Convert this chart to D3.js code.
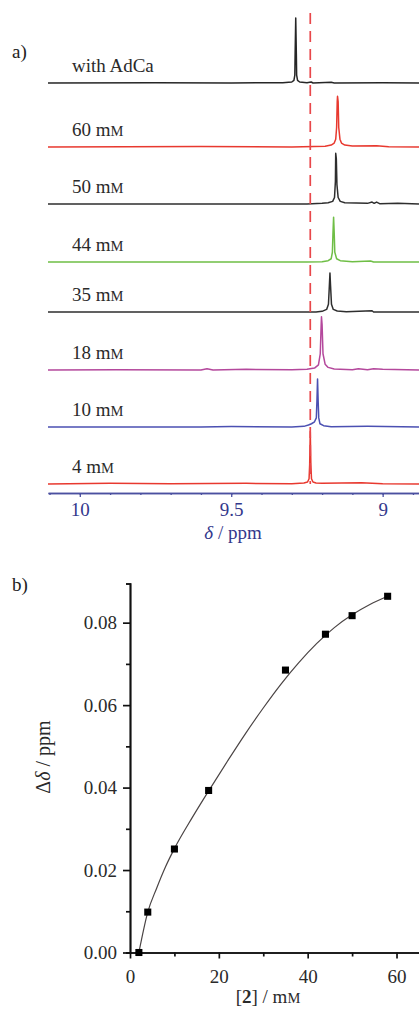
<!DOCTYPE html>
<html>
<head>
<meta charset="utf-8">
<script src="https://cdn.jsdelivr.net/npm/d3@7"></script>
<style>
  body { margin: 0; background: #fff; }
  text { font-family: "Liberation Serif", "Times New Roman", serif; }
</style>
</head>
<body>
<div id="chart"></div>
<script>
// panel a: stacked 1H NMR spectra, [ppm, intensity]
var spectrumLabels = ["with AdCa", "60 mM", "50 mM", "44 mM", "35 mM", "18 mM", "10 mM", "4 mM"];

var specAdCa = [[10.105,0],[9.75,0.5],[9.5,0],[9.33,0.5],[9.30,1.5],[9.293,4],[9.290,12],[9.289,45],[9.287,100],[9.285,45],[9.284,12],[9.281,4],[9.274,1.5],[9.25,0.5],[9.236,1.5],[9.23,0],[9.17,1.2],[9.16,0],[9.0,0.5],[8.88,0]];
var spec60 = [[10.105,0],[9.6,0.6],[9.3,0],[9.19,1],[9.17,3],[9.16,6],[9.155,12],[9.152,30],[9.150,70],[9.149,78],[9.147,70],[9.145,30],[9.141,12],[9.136,6],[9.125,3],[9.10,1.5],[9.02,2],[8.98,0.5],[8.88,0]];
var spec50 = [[10.105,0],[9.25,0],[9.20,1],[9.18,2],[9.165,4],[9.159,10],[9.156,35],[9.155,78],[9.153,70],[9.151,30],[9.147,10],[9.14,4],[9.125,2],[9.05,1],[9.035,3],[9.028,1],[9.02,3],[9.01,0.5],[8.95,1],[8.88,0]];
var spec44 = [[10.105,0],[9.25,0],[9.20,0.5],[9.18,2],[9.17,5],[9.166,15],[9.164,45],[9.162,69],[9.160,45],[9.158,15],[9.152,5],[9.14,2],[9.10,0.5],[9.04,1.5],[9.03,0],[8.88,0]];
var spec35 = [[10.105,0],[9.22,0],[9.20,1],[9.185,4],[9.179,12],[9.176,40],[9.174,60],[9.172,40],[9.169,12],[9.163,4],[9.15,1.5],[9.12,0.5],[9.035,2],[9.03,0],[8.88,0]];
var spec18 = [[10.105,0],[9.88,0.5],[9.6,0],[9.58,2],[9.56,0],[9.45,1],[9.3,0.5],[9.25,1],[9.225,3],[9.212,8],[9.206,25],[9.203,70],[9.202,82],[9.200,70],[9.197,25],[9.19,9],[9.18,4],[9.16,1.5],[9.1,0.5],[9.08,2],[9.05,0.5],[9.03,2],[9.0,1],[8.88,0]];
var spec10 = [[10.105,0],[9.6,0],[9.5,0.6],[9.3,0],[9.26,1],[9.245,3],[9.235,5],[9.225,8],[9.219,14],[9.217,40],[9.215,74],[9.213,40],[9.211,14],[9.207,5],[9.195,2],[9.17,0.5],[9.05,1],[8.88,0]];
var spec4 = [[10.105,0],[9.9,1],[9.7,0.5],[9.45,1],[9.3,0.5],[9.26,1.5],[9.248,3],[9.243,8],[9.241,30],[9.239,81],[9.237,30],[9.235,8],[9.23,3],[9.22,1.5],[9.2,1],[9.07,2],[9.0,0.5],[8.88,0]];
var spectra = [specAdCa, spec60, spec50, spec44, spec35, spec18, spec10, spec4];

var refShift = 9.239;              // dashed reference line
var ppmMajor = [10, 9.5, 9];
var ppmMinor = [10.1, 10, 9.9, 9.8, 9.7, 9.6, 9.5, 9.4, 9.3, 9.2, 9.1, 9, 8.9];

// panel b: titration
var conc = [2, 4, 10, 17.7, 35, 44, 50, 58];
var shift = [0, 0.0098, 0.0251, 0.0393, 0.0685, 0.0772, 0.0817, 0.0864];
var fitConc = [2, 4, 6, 8, 10, 14, 18, 22, 26, 30, 34, 38, 42, 46, 50, 54, 58];
var fitShift = [0, 0.0098, 0.0156, 0.0208, 0.0252, 0.0327, 0.0397, 0.0465, 0.0531, 0.0593, 0.0651, 0.0703, 0.0749, 0.0788, 0.0819, 0.0844, 0.0864];
var concMajor = [0, 20, 40, 60];
var concMinor = [10, 30, 50];
var shiftMajor = [0, 0.02, 0.04, 0.06, 0.08];
var shiftMinor = [0.01, 0.03, 0.05, 0.07];

// layout / style
var width = 419, height = 1009;
var rowY = [83, 147, 204, 262, 312, 370, 427, 484];
var colors = ["#262626", "#e8392f", "#2e2e2e", "#6fbe46", "#2e2e2e", "#b4489c", "#4b50b2", "#e8392f"];
var navy = "#33388c";

var svg = d3.select("#chart").append("svg")
    .attr("width", width)
    .attr("height", height);

// ---------- panel a ----------
var xA = d3.scaleLinear().domain([10.105, 8.88]).range([48, 419]);
var yA = d3.scaleLinear().domain([0, 100]).range([0, -65]);

var line = d3.line()
    .x(function(d) { return xA(d[0]); })
    .y(function(d) { return yA(d[1]); });

svg.append("text").attr("x", 12).attr("y", 58).style("font-size", "19px").attr("fill", "#222").text("a)");

var rows = svg.selectAll("g.spec")
    .data(spectra)
    .enter()
    .append("g")
        .classed("spec", true)
        .attr("transform", function(d, i) { return "translate(0," + rowY[i] + ")"; });

rows.append("path")
    .attr("d", line)
    .attr("fill", "none")
    .attr("stroke", function(d, i) { return colors[i]; })
    .attr("stroke-width", 1.5)
    .attr("stroke-linejoin", "round");

rows.each(function(d, i) {
    var lab = spectrumLabels[i];
    var t = d3.select(this).append("text")
        .attr("x", 72)
        .attr("y", -11)
        .attr("fill", "#2a2a2a")
        .style("font-size", "19px");
    if (/mM$/.test(lab)) {
        t.text(lab.slice(0, -1));
        t.append("tspan").style("font-size", "14.5px").text("M");
    } else {
        t.text(lab);
    }
});

// reference line
svg.append("line")
    .attr("x1", xA(refShift)).attr("x2", xA(refShift))
    .attr("y1", 13).attr("y2", rowY[7])
    .attr("stroke", "#e8474a")
    .attr("stroke-width", 1.7)
    .attr("stroke-dasharray", "11,7");

// ppm axis
var axA = svg.append("g").attr("transform", "translate(0,493)");
axA.append("g")
    .call(d3.axisBottom(xA).tickValues(ppmMinor).tickSize(2).tickSizeOuter(0).tickFormat(""));
axA.append("g")
    .call(d3.axisBottom(xA).tickValues(ppmMajor).tickSize(4).tickSizeOuter(0).tickPadding(6)
        .tickFormat(function(d) { return d3.format("")(d); }));
axA.selectAll("path, line").attr("stroke", "#4b50a0").attr("stroke-width", 1.3);
axA.selectAll("text").attr("fill", navy).style("font-size", "19px")
    .style("font-family", "'Liberation Serif', serif");

var lblA = svg.append("text")
    .attr("x", 233).attr("y", 539)
    .attr("text-anchor", "middle")
    .attr("fill", navy)
    .style("font-size", "19px");
lblA.append("tspan").style("font-style", "italic").text("δ");
lblA.append("tspan").text(" / ppm");

// ---------- panel b ----------
var xB = d3.scaleLinear().domain([0, 66]).range([130, 130 + 66 * 4.442]);
var yB = d3.scaleLinear().domain([0, 0.0895]).range([952.5, 583.5]);

svg.append("text").attr("x", 12).attr("y", 591).style("font-size", "19px").attr("fill", "#222").text("b)");

var axX = svg.append("g").attr("transform", "translate(0," + yB(0) + ")");
axX.append("g")
    .call(d3.axisBottom(xB).tickValues(concMinor).tickSize(4).tickSizeOuter(0).tickFormat(""));
axX.append("g")
    .call(d3.axisBottom(xB).tickValues(concMajor).tickSize(6).tickSizeOuter(0).tickPadding(11));

var axY = svg.append("g").attr("transform", "translate(" + xB(0) + ",0)");
axY.append("g")
    .call(d3.axisLeft(yB).tickValues(shiftMinor).tickSize(4).tickSizeOuter(4).tickFormat(""));
axY.append("g")
    .call(d3.axisLeft(yB).tickValues(shiftMajor).tickSize(7).tickSizeOuter(4).tickPadding(6)
        .tickFormat(d3.format(".2f")));

[axX, axY].forEach(function(g) {
    g.selectAll("path, line").attr("stroke", "#111").attr("stroke-width", 1.7);
    g.selectAll("text").attr("fill", "#2a2a2a").style("font-size", "19px")
        .style("font-family", "'Liberation Serif', serif");
});

// fit curve
var fitLine = d3.line()
    .x(function(d, i) { return xB(fitConc[i]); })
    .y(function(d, i) { return yB(fitShift[i]); })
    .curve(d3.curveMonotoneX);

svg.append("path")
    .attr("d", fitLine(fitConc))
    .attr("fill", "none")
    .attr("stroke", "#4a4444")
    .attr("stroke-width", 1.2);

// data points
svg.selectAll("path.pt")
    .data(conc)
    .enter()
    .append("path")
        .classed("pt", true)
        .attr("d", d3.symbol().type(d3.symbolSquare).size(50))
        .attr("transform", function(d, i) {
            return "translate(" + xB(d) + "," + yB(shift[i]) + ")";
        })
        .attr("fill", "#000");

// axis titles
var lblY = svg.append("text")
    .attr("transform", "translate(50,757) rotate(-90)")
    .attr("text-anchor", "middle")
    .attr("fill", "#2a2a2a")
    .style("font-size", "20px");
lblY.append("tspan").text("Δ");
lblY.append("tspan").style("font-style", "italic").text("δ");
lblY.append("tspan").text(" / ppm");

var lblX = svg.append("text")
    .attr("x", 268).attr("y", 1003)
    .attr("text-anchor", "middle")
    .attr("fill", "#2a2a2a")
    .style("font-size", "19px");
lblX.append("tspan").text("[");
lblX.append("tspan").style("font-weight", "bold").text("2");
lblX.append("tspan").text("] / m");
lblX.append("tspan").style("font-size", "14.5px").text("M");
</script>
</body>
</html>
